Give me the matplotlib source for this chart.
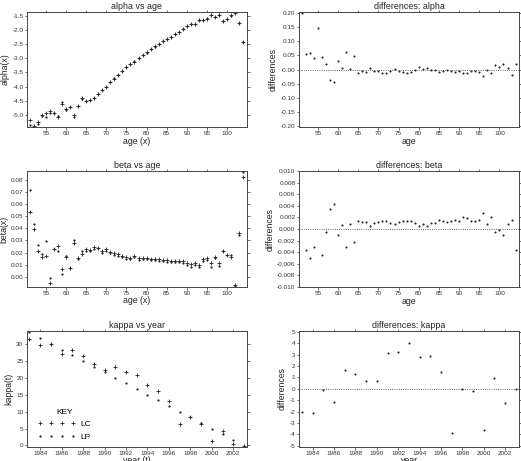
import numpy as np
import matplotlib
matplotlib.use("Agg")
import matplotlib.pyplot as plt

plt.rcParams['font.family'] = ['Liberation Sans', 'DejaVu Sans']
plt.rcParams['axes.unicode_minus'] = False

# data
ages = list(range(51, 105))
years = list(range(1983, 2004))

alpha_lc = [-5.16, -5.37, -5.24, -5.00, -4.91, -4.87, -4.91, -5.06, -4.60, -4.79,
            -4.72, -4.99, -4.68, -4.40, -4.51, -4.46, -4.41, -4.26, -4.12, -4.02,
            -3.83, -3.72, -3.58, -3.45, -3.32, -3.21, -3.12, -3.00, -2.90, -2.79,
            -2.69, -2.58, -2.50, -2.40, -2.32, -2.24, -2.15, -2.07, -1.98, -1.88,
            -1.79, -1.79, -1.64, -1.65, -1.60, -1.49, -1.55, -1.49, -1.68, -1.61,
            -1.49, -1.39, -1.77, -2.41]
alpha_lp = [-5.36, -5.42, -5.30, -5.04, -5.06, -4.91, -4.93, -5.02, -4.55, -4.82,
            -4.73, -5.05, -4.68, -4.45, -4.50, -4.46, -4.40, -4.27, -4.12, -4.01,
            -3.82, -3.71, -3.58, -3.45, -3.31, -3.20, -3.11, -2.99, -2.90, -2.80,
            -2.69, -2.59, -2.50, -2.40, -2.31, -2.24, -2.15, -2.06, -1.97, -1.88,
            -1.78, -1.78, -1.64, -1.65, -1.59, -1.47, -1.55, -1.48, -1.70, -1.62,
            -1.51, -1.39, -1.75, -2.43]
alpha_diff = [0.200, 0.054, 0.059, 0.040, 0.146, 0.044, 0.020, -0.038, -0.045, 0.029,
              0.005, 0.061, 0.002, 0.048, -0.012, -0.004, -0.008, 0.007, -0.004, -0.007,
              -0.012, -0.012, -0.005, 0.002, -0.007, -0.008, -0.011, -0.008, -0.001, 0.009,
              0.001, 0.007, -0.001, -0.002, -0.009, -0.005, -0.002, -0.006, -0.008, -0.005,
              -0.013, -0.013, -0.004, -0.005, -0.008, -0.022, -0.001, -0.012, 0.016, 0.009,
              0.020, 0.005, -0.020, 0.018]

beta_lc = [0.0534, 0.0398, 0.0211, 0.0162, 0.0170, -0.0050, 0.0226, 0.0251, 0.0066, 0.0161,
           0.0077, 0.0276, 0.0155, 0.0192, 0.0226, 0.0222, 0.0246, 0.0240, 0.0212, 0.0228,
           0.0208, 0.0198, 0.0186, 0.0176, 0.0162, 0.0160, 0.0176, 0.0156, 0.0155, 0.0153,
           0.0152, 0.0145, 0.0145, 0.0139, 0.0137, 0.0135, 0.0135, 0.0135, 0.0131, 0.0111,
           0.0106, 0.0119, 0.0096, 0.0148, 0.0157, 0.0112, 0.0165, 0.0112, 0.0211, 0.0183,
           0.0168, -0.0064, 0.0360, 0.0825]
beta_lp = [0.0712, 0.0434, 0.0262, 0.0193, 0.0296, -0.0005, 0.0232, 0.0216, 0.0022, 0.0172,
           0.0070, 0.0307, 0.0146, 0.0214, 0.0212, 0.0210, 0.0234, 0.0235, 0.0201, 0.0216,
           0.0194, 0.0184, 0.0175, 0.0167, 0.0150, 0.0147, 0.0162, 0.0143, 0.0145, 0.0147,
           0.0143, 0.0140, 0.0134, 0.0128, 0.0121, 0.0122, 0.0123, 0.0122, 0.0115, 0.0097,
           0.0085, 0.0100, 0.0083, 0.0135, 0.0142, 0.0084, 0.0156, 0.0092, 0.0217, 0.0184,
           0.0179, -0.0073, 0.0344, 0.0861]
beta_diff = [np.nan, -0.0036, -0.0051, -0.0031, np.nan, -0.0045, -0.0006, 0.0035, 0.0044, -0.0011,
             0.0007, -0.0031, 0.0009, -0.0022, 0.0014, 0.0012, 0.0012, 0.0005, 0.0011, 0.0012,
             0.0014, 0.0014, 0.0011, 0.0009, 0.0012, 0.0013, 0.0014, 0.0013, 0.0010, 0.0006,
             0.0009, 0.0005, 0.0011, 0.0011, 0.0016, 0.0013, 0.0012, 0.0013, 0.0016, 0.0014,
             0.0021, 0.0019, 0.0013, 0.0013, 0.0015, 0.0028, 0.0009, 0.0020, -0.0006, -0.0001,
             -0.0011, 0.0009, 0.0016, -0.0036]

kappa_lc = [31.6, 29.7, 30.1, 27.3, 28.4, 26.5, 24.2, 22.5, 23.3, 21.8, 20.8,
            17.8, 16.3, 13.2, 6.2, 8.3, 6.4, 1.4, 4.3, 0.4, -0.2]
kappa_lp = [33.6, 31.9, 30.2, 28.4, 26.8, 25.2, 23.4, 21.8, 20.1, 18.5, 16.8,
            15.0, 13.4, 11.7, 10.0, 8.3, 6.6, 5.0, 3.4, 1.6, -0.2]
kappa_diff = [-2.02, -2.16, -0.09, -1.11, 1.61, 1.32, 0.73, 0.73, 3.16, 3.27, 3.98,
              2.78, 2.92, 1.46, -3.83, 0.00, -0.23, -3.65, 0.94, -1.23, 0.00]

W, H = 521, 461
fig = plt.figure(figsize=(W / 100, H / 100), dpi=100)


def px_axes(l, t, r, b):
    return fig.add_axes([l / W, 1 - b / H, (r - l) / W, (b - t) / H])


def style(ax, title, xlabel, ylabel):
    ax.set_title(title, fontsize=6.4, pad=2.3, color='#222222')
    ax.set_xlabel(xlabel, fontsize=6.3, labelpad=0.3, color='#222222')
    ax.set_ylabel(ylabel, fontsize=6.3, labelpad=2, color='#222222')
    ax.tick_params(direction='out', length=1.8, width=0.5, labelsize=4.6, pad=1,
                   top=True, right=True, colors='#333333')
    for s in ax.spines.values():
        s.set_linewidth(0.7)
        s.set_color('#444444')


mk_lc = dict(ls='none', marker='+', ms=2.6, mew=0.6, color='#222222')
mk_lp = dict(ls='none', marker='o', ms=1.6, mew=0, color='#222222')
mk_d = dict(ls='none', marker='o', ms=1.5, mew=0, color='#222222')

# alpha vs age
ax = px_axes(27.3, 11.7, 246.7, 127.3)
ax.plot(ages, alpha_lc, **mk_lc)
ax.plot(ages, alpha_lp, **mk_lp)
ax.set_xlim(50.4, 104.85)
ax.set_ylim(-5.43, -1.36)
ax.set_xticks(range(55, 101, 5))
ax.set_yticks(np.arange(-5.0, -1.4, 0.5))
ax.set_yticklabels([f'{v:.1f}' for v in np.arange(-5.0, -1.4, 0.5)])
style(ax, 'alpha vs age', 'age (x)', 'alpha(x)')

# differences alpha
ax = px_axes(299.3, 11.7, 519, 127.3)
ax.plot(ages, alpha_diff, **mk_d)
ax.axhline(0, color='#333333', ls=':', lw=0.6)
ax.set_xlim(50.4, 104.85)
ax.set_ylim(-0.2035, 0.2035)
ax.set_xticks(range(55, 101, 5))
yt = [-0.20, -0.15, -0.10, -0.05, 0.0, 0.05, 0.10, 0.15, 0.20]
ax.set_yticks(yt)
ax.set_yticklabels(['-0.20', '-0.15', '-0.10', '-0.05', '-0.00', '0.05', '0.10', '0.15', '0.20'])
style(ax, 'differences: alpha', 'age', 'differences')

# beta vs age
ax = px_axes(27.3, 171.3, 246.7, 287)
ax.plot(ages, beta_lc, **mk_lc)
ax.plot(ages, beta_lp, **mk_lp)
ax.set_xlim(50.4, 104.85)
ax.set_ylim(-0.0082, 0.0868)
ax.set_xticks(range(55, 101, 5))
yt = [i / 100 for i in range(0, 9)]
ax.set_yticks(yt)
ax.set_yticklabels([f'{v:.2f}' for v in yt])
style(ax, 'beta vs age', 'age (x)', 'beta(x)')

# differences beta
ax = px_axes(299.3, 170.7, 519, 287.3)
ax.plot(ages, beta_diff, **mk_d)
ax.axhline(0, color='#333333', ls=':', lw=0.6)
ax.set_xlim(50.4, 104.85)
ax.set_ylim(-0.0101, 0.0101)
ax.set_xticks(range(55, 101, 5))
yt = [i / 1000 for i in range(-10, 11, 2)]
ax.set_yticks(yt)
ax.set_yticklabels([f'{v:.3f}' for v in yt])
style(ax, 'differences: beta', 'age', 'differences')

# kappa vs year
ax = px_axes(27.3, 331, 246.7, 447)
ax.plot(years, kappa_lc, label='LC', **mk_lc)
ax.plot(years, kappa_lp, label='LP', **mk_lp)
ax.set_xlim(1982.8, 2003.25)
ax.set_ylim(-0.5, 34)
ax.set_xticks(range(1984, 2003, 2))
ax.set_yticks(range(0, 31, 5))
style(ax, 'kappa vs year', 'year (t)', 'kappa(t)')
leg = ax.legend(title='KEY', numpoints=4, frameon=False, fontsize=6,
                title_fontsize=6, handlelength=4.6, handletextpad=0.6,
                labelspacing=0.55, loc='lower left', bbox_to_anchor=(0.03, 0.025),
                borderaxespad=0)

# differences kappa
ax = px_axes(299.3, 330.7, 519, 447)
ax.plot(years, kappa_diff, **mk_d)
ax.axhline(0, color='#333333', ls=':', lw=0.6)
ax.set_xlim(1982.75, 2003.3)
ax.set_ylim(-5.1, 5.1)
ax.set_xticks(range(1984, 2003, 2))
ax.set_yticks(range(-5, 6))
style(ax, 'differences: kappa', 'year', 'differences')

fig.savefig('out.png', dpi=100)
